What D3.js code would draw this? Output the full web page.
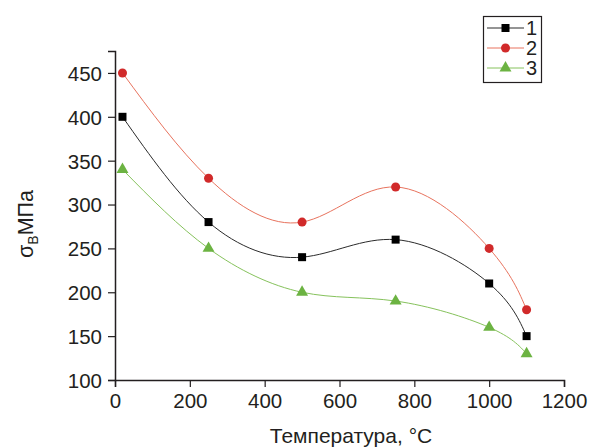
<!DOCTYPE html>
<html><head><meta charset="utf-8">
<script src="https://cdn.jsdelivr.net/npm/d3@7"></script>
<style>body{margin:0;background:#fff}svg{font-family:"Liberation Sans",Arial,sans-serif}</style>
</head><body><svg id="c" width="591" height="448"></svg>
<script>
const temps = [20, 250, 500, 750, 1000, 1100];
const s1 = [400, 280, 240, 260, 210, 150];
const s2 = [450, 330, 280, 320, 250, 180];
const s3 = [340, 250, 200, 190, 160, 130];
const seriesNames = ["1", "2", "3"];
const xTicks = [0, 200, 400, 600, 800, 1000, 1200];
const yTicks = [100, 150, 200, 250, 300, 350, 400, 450];

const svg = d3.select("#c");
const m = {l:115, r:27, t:51, b:68};
const W = 591, H = 448;
const x = d3.scaleLinear().domain([0,1200]).range([m.l, W-m.r]);
const y = d3.scaleLinear().domain([100,475]).range([H-m.b, m.t]);

const col = "#231f20";
// minor ticks
const gx = svg.append("g").attr("transform",`translate(0,${H-m.b})`);
gx.call(d3.axisBottom(x).tickValues(d3.range(0,1201,100)).tickSize(4).tickFormat(""));
gx.call(d3.axisBottom(x).tickValues(xTicks).tickSize(7).tickPadding(4).tickFormat(d3.format("d")));
const gy = svg.append("g").attr("transform",`translate(${m.l},0)`);
gy.call(d3.axisLeft(y).tickValues(d3.range(100,476,25)).tickSize(4).tickFormat(""));
gy.call(d3.axisLeft(y).tickValues(yTicks).tickSize(7).tickPadding(6).tickFormat(d3.format("d")));
svg.selectAll(".domain").attr("stroke",col).attr("stroke-width",1.5);
svg.selectAll(".tick line").attr("stroke",col).attr("stroke-width",1.2);
svg.selectAll(".tick text").attr("fill",col).attr("font-size",20.5);
gx.selectAll(".tick text").attr("dy","0.85em");
gy.selectAll(".tick text").attr("dy","0.36em");

svg.append("text").attr("x",351).attr("y",443).attr("text-anchor","middle")
  .attr("font-size",21).attr("fill",col).text("Температура, °C");
const yl = svg.append("text").attr("transform",`translate(33,224) rotate(-90)`)
  .attr("text-anchor","middle").attr("font-size",21.5).attr("fill",col);
yl.append("tspan").text("σ");
yl.append("tspan").attr("font-size",14).attr("dy",5).text("В");
yl.append("tspan").attr("dy",-5).text("МПа");

const data = [
  {name:seriesNames[0], vals:s1, line:"#2b2b2b", mark:"#000000", sym:d3.symbolSquare, size:64},
  {name:seriesNames[1], vals:s2, line:"#e8735e", mark:"#d12a2a", sym:d3.symbolCircle, size:64},
  {name:seriesNames[2], vals:s3, line:"#86c25c", mark:"#6cb342", sym:d3.symbolTriangle, size:62}
];
const line = d3.line().x(d=>x(d[0])).y(d=>y(d[1])).curve(d3.curveNatural);
data.forEach(s=>{
  const pts = temps.map((t,i)=>[t,s.vals[i]]);
  svg.append("path").attr("d",line(pts)).attr("fill","none").attr("stroke",s.line).attr("stroke-width",1);
  svg.selectAll(null).data(pts).enter().append("path")
    .attr("d",d3.symbol().type(s.sym).size(s.size))
    .attr("transform",d=>`translate(${x(d[0])},${y(d[1])})`).attr("fill",s.mark);
});

// legend
const lg = svg.append("g");
lg.append("rect").attr("x",483.5).attr("y",16.5).attr("width",58).attr("height",66)
  .attr("fill","#fff").attr("stroke",col).attr("stroke-width",1.2);
data.forEach((s,i)=>{
  const yy = 28 + i*20;
  lg.append("line").attr("x1",487).attr("x2",524).attr("y1",yy).attr("y2",yy).attr("stroke",s.line).attr("stroke-width",1);
  lg.append("path").attr("d",d3.symbol().type(s.sym).size(s.size)).attr("transform",`translate(505.5,${yy})`).attr("fill",s.mark);
  lg.append("text").attr("x",526).attr("y",yy+7).attr("font-size",20).attr("fill",col).text(s.name);
});
</script></body></html>
